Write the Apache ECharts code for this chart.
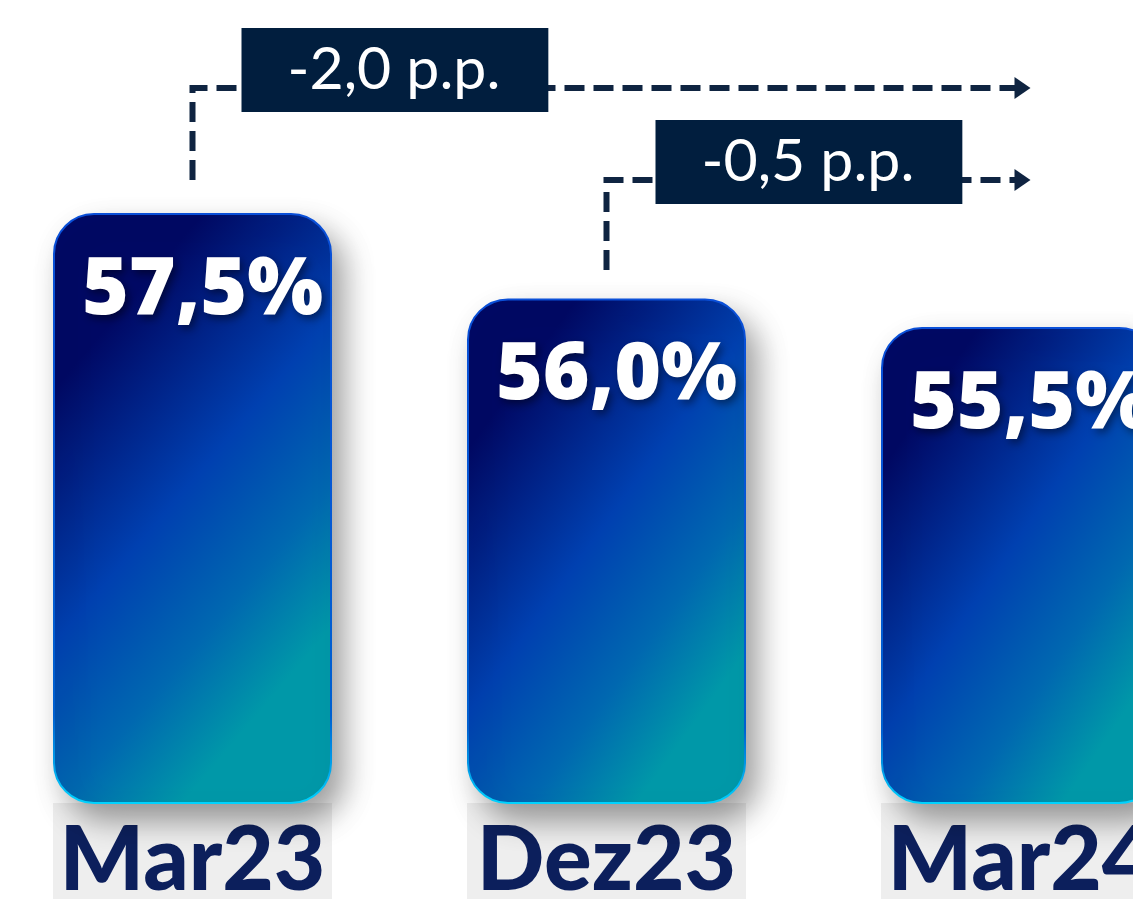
<!DOCTYPE html>
<html>
<head>
<meta charset="utf-8">
<title>Mar23 / Dez23 / Mar24</title>
<script src="https://cdn.jsdelivr.net/npm/echarts@6/dist/echarts.min.js"></script>
<style>
  html, body { margin: 0; padding: 0; background: #ffffff; overflow: hidden; }
  #chart { width: 1133px; height: 899px; }
</style>
</head>
<body>
<div id="chart"></div>
<script>
// data
const categories = ["Mar23", "Dez23", "Mar24"];
const values = [57.5, 56.0, 55.5];
// comparisons: from bar index -> to bar index
const changeFrom = [0, 1];
const changeTo = [2, 2];

const navy = "#0c1f5c";
const boxColor = "#011e3e";
const lineColor = "#0f2441";

const fmt = (v) => v.toFixed(1).replace(".", ",");

const chart = echarts.init(document.getElementById("chart"));

chart.setOption({
  animation: false,
  backgroundColor: "#ffffff",
  grid: {
    left: -14.5,
    width: 1242,
    top: 0,
    height: 803,
    containLabel: false,
    outerBoundsMode: "none",
  },
  xAxis: {
    type: "category",
    data: categories,
    axisLine: { show: false },
    axisTick: { show: false },
    splitLine: { show: false },
    axisLabel: {
      margin: 0,
      interval: 0,
      color: navy,
      fontFamily: "Lato",
      fontWeight: 900,
      fontSize: 89,
      lineHeight: 100,
      width: 279,
      align: "center",
      backgroundColor: "#eeeeee",
      padding: [8, 0, 20, 0],
    },
  },
  yAxis: {
    type: "value",
    min: 47.14,
    max: 61.24,
    show: false,
  },
  series: [
    {
      type: "bar",
      data: values,
      barWidth: 279,
      itemStyle: {
        borderRadius: 40,
        color: new echarts.graphic.LinearGradient(0, 0.3, 1, 0.7, [
          { offset: 0, color: "#000864" },
          { offset: 0.45, color: "#0040b0" },
          { offset: 0.75, color: "#0068b0" },
          { offset: 1, color: "#0098a8" },
        ]),
        borderWidth: 2,
        borderColor: new echarts.graphic.LinearGradient(0, 0, 0, 1, [
          { offset: 0, color: "#0a4fd8" },
          { offset: 0.85, color: "#0060d0" },
          { offset: 1, color: "#00d4ff" },
        ]),
        shadowColor: "rgba(0, 0, 0, 0.38)",
        shadowBlur: 30,
        shadowOffsetX: 12,
        shadowOffsetY: 16,
      },
      label: {
        show: true,
        position: "insideTop",
        distance: 38,
        offset: [10, 0],
        formatter: (p) => fmt(p.value) + "%",
        color: "#ffffff",
        fontFamily: "Open Sans",
        fontWeight: 800,
        fontSize: 80,
        textShadowColor: "rgba(0, 0, 0, 0.45)",
        textShadowBlur: 8,
        textShadowOffsetX: 3,
        textShadowOffsetY: 4,
      },
    },
  ],
});

// difference arrows, placed from the bar positions
const lineLevels = [88, 180];
const stubEnds = [180, 270];
const graphics = [];
changeFrom.forEach((from, i) => {
  const to = changeTo[i];
  const x0 = chart.convertToPixel({ gridIndex: 0 }, [from, values[from]])[0];
  const x1 = chart.convertToPixel({ gridIndex: 0 }, [to, values[to]])[0] + 10;
  const y = lineLevels[i];
  graphics.push({
    type: "polyline",
    shape: { points: [[x0, stubEnds[i]], [x0, y], [x1 - 14, y]] },
    style: { stroke: lineColor, lineWidth: 6, lineDash: [20, 9], fill: null },
    z: 10,
  });
  graphics.push({
    type: "polygon",
    shape: { points: [[x1 - 16, y - 11], [x1, y], [x1 - 16, y + 11]] },
    style: { fill: lineColor },
    z: 10,
  });
  const diff = values[to] - values[from];
  graphics.push({
    type: "text",
    x: x0 + 49,
    y: y - 60,
    style: {
      text: fmt(diff) + " p.p.",
      fill: "#ffffff",
      fontFamily: "Lato",
      fontSize: 59,
      backgroundColor: boxColor,
      padding: [11, 48, 11, 46],
      lineHeight: 62,
    },
    z: 11,
  });
});
chart.setOption({ graphic: graphics });
</script>
</body>
</html>
